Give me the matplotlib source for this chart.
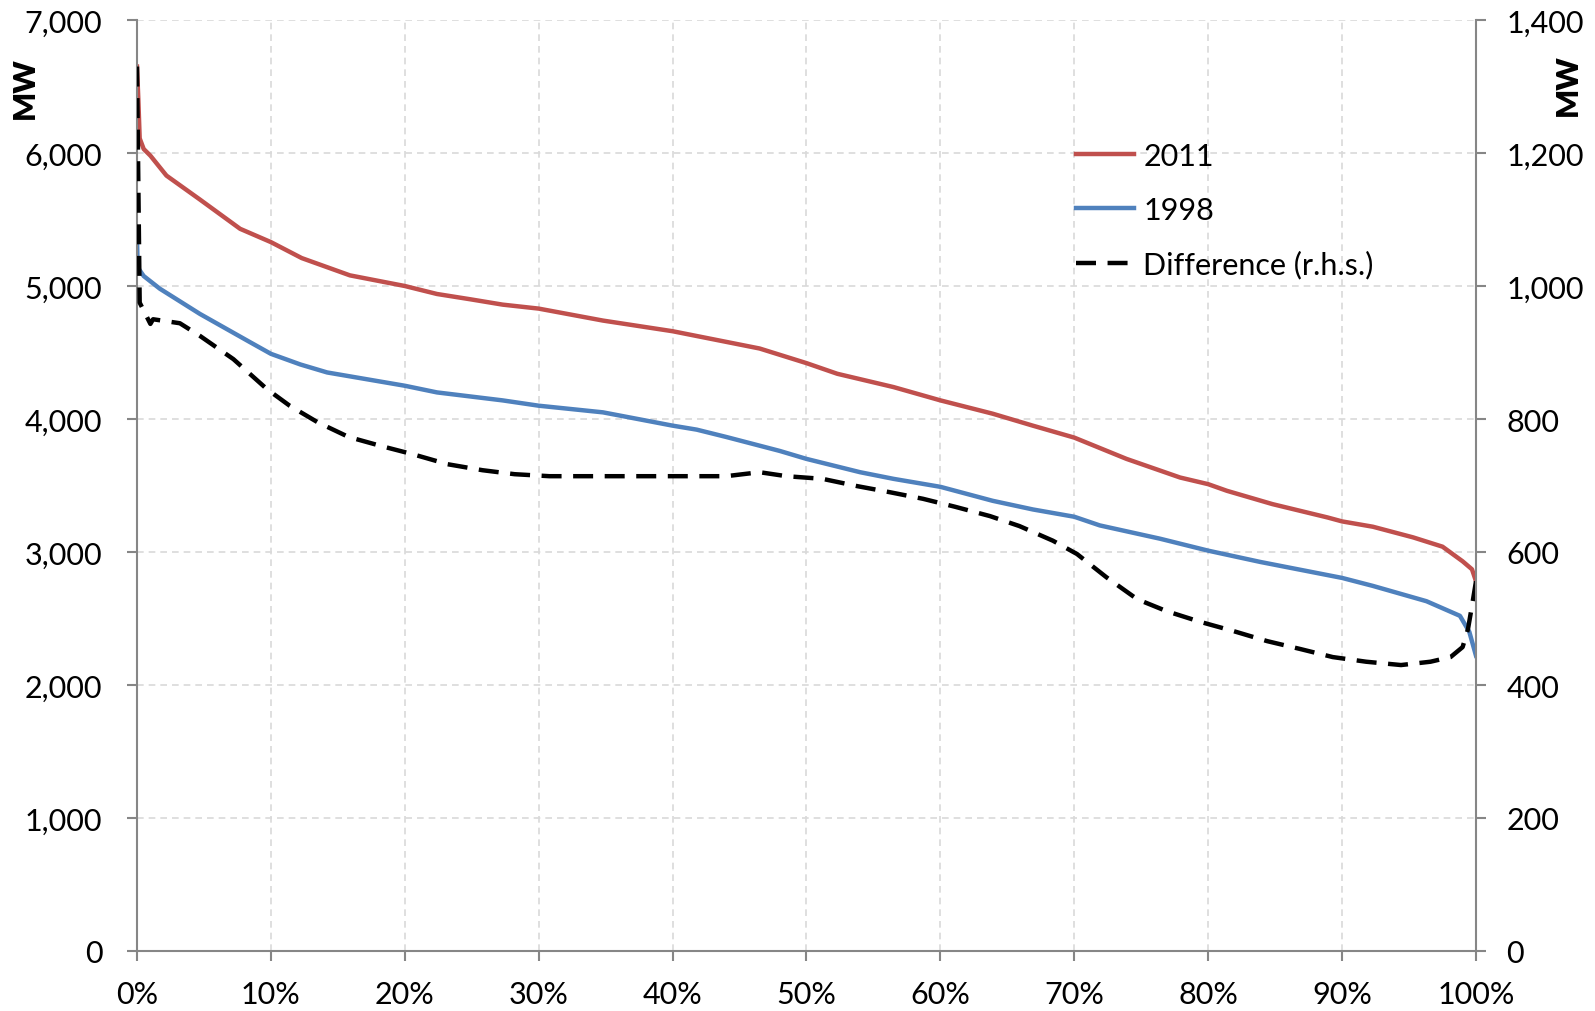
import numpy as np
import matplotlib
matplotlib.use("Agg")
from matplotlib import pyplot as plt
from matplotlib.ticker import FuncFormatter, MultipleLocator

plt.rcParams['font.family'] = ['Lato', 'DejaVu Sans']

# load duration curves, x in % of hours, y in MW
pct_2011 = [0, 0.1, 0.2, 0.5, 1, 2.2, 4.7, 7.7, 10, 12.3, 15.9, 20, 22.4, 24.9, 27.3, 30,
            34.8, 40, 44, 46.5, 50, 52.3, 56.5, 60, 63.9, 66.9, 70, 73.9, 77.9, 80, 81.4,
            84.8, 88.9, 90, 92.3, 95.3, 97.5, 99, 99.7, 100]
mw_2011 = [6650, 6400, 6110, 6030, 5980, 5830, 5650, 5430, 5330, 5210, 5080, 5000, 4940,
           4900, 4860, 4830, 4740, 4660, 4580, 4530, 4420, 4340, 4240, 4140, 4040, 3950,
           3860, 3700, 3560, 3510, 3460, 3360, 3260, 3230, 3190, 3110, 3040, 2930, 2870, 2780]

pct_1998 = [0, 0.05, 0.5, 1.7, 4.7, 8.4, 10, 12.2, 14.2, 20, 22.4, 27.3, 30, 34.8, 40, 41.8,
            44, 48, 50, 54, 56.5, 60, 63.9, 66.9, 70, 71.9, 76.4, 80, 83.9, 90, 92.3, 96.3,
            98.8, 99.5, 100]
mw_1998 = [5350, 5140, 5075, 4980, 4790, 4580, 4490, 4410, 4350, 4250, 4200, 4140, 4100,
           4050, 3950, 3920, 3865, 3760, 3700, 3600, 3550, 3490, 3385, 3320, 3265, 3200,
           3100, 3010, 2925, 2805, 2745, 2630, 2520, 2400, 2220]

# difference, right-hand scale
pct_diff = [0, 0.2, 1, 1.2, 3.2, 4.7, 7.2, 9.7, 11.4, 13.5, 15.8, 18.3, 20.6, 23.2, 25.8,
            28.2, 30.8, 35, 40, 44, 46.5, 48.5, 51.2, 53.8, 56.2, 58.7, 61.1, 63.7, 65.9,
            68.4, 70.2, 72.4, 74.7, 76.9, 79.4, 81.9, 84.4, 86.9, 89.3, 91.8, 94.4, 96.6,
            98.1, 99, 99.4, 99.7, 100]
mw_diff = [1330, 975, 943, 950, 944, 925, 890, 845, 820, 795, 773, 759, 747, 732, 723, 717,
           714, 714, 714, 714, 720, 714, 710, 699, 690, 680, 668, 654, 639, 617, 597, 562,
           529, 511, 495, 481, 466, 454, 442, 435, 430, 435, 442, 457, 484, 519, 556]

x_ticks = [0, 10, 20, 30, 40, 50, 60, 70, 80, 90, 100]

red = '#C0504D'
blue = '#4F81BD'
spine_col = '#868686'
fs = 22

fig = plt.figure(figsize=(15.95, 10.12), dpi=100)
ax = fig.add_axes([137/1595, 1 - 952/1012, (1476-137)/1595, (952-21)/1012])
ax2 = ax.twinx()

l1, = ax.plot(pct_2011, mw_2011, color=red, lw=3.2, label='2011')
l2, = ax.plot(pct_1998, mw_1998, color=blue, lw=3.2, label='1998')
l3, = ax2.plot(pct_diff, mw_diff, color='black', lw=3.2, dashes=(4.5, 2.6),
               label='Difference (r.h.s.)')

ax.set_xlim(0, 100)
ax.set_ylim(0, 7000)
ax2.set_ylim(0, 1400)
ax.set_xticks(x_ticks)
ax.xaxis.set_major_formatter(FuncFormatter(lambda v, p: f'{v:.0f}%'))
ax.yaxis.set_major_locator(MultipleLocator(1000))
ax2.yaxis.set_major_locator(MultipleLocator(200))
comma = FuncFormatter(lambda v, p: f'{v:,.0f}')
ax.yaxis.set_major_formatter(comma)
ax2.yaxis.set_major_formatter(comma)

ax.grid(True, color='#d9d9d9', lw=1.2, ls=(0, (4, 3)))
ax.set_axisbelow(True)

for a in (ax, ax2):
    a.spines['top'].set_visible(False)
    for s in ('left', 'bottom', 'right'):
        a.spines[s].set_color(spine_col)
        a.spines[s].set_linewidth(1.5)
ax.spines['right'].set_visible(False)
ax2.spines['left'].set_visible(False)
ax2.spines['bottom'].set_visible(False)

ax.tick_params(axis='y', length=7, width=1.5, color=spine_col, labelsize=fs, pad=18)
ax.tick_params(axis='x', length=7, width=1.5, color=spine_col, labelsize=fs, pad=14)
ax2.tick_params(axis='y', length=7, width=1.5, color=spine_col, labelsize=fs, pad=15)

fig.text(25/1595, 1 - 88/1012, 'MW', rotation=90, fontsize=fs, fontweight='heavy',
         ha='center', va='center')
fig.text(1568/1595, 1 - 85/1012, 'MW', rotation=90, fontsize=fs, fontweight='heavy',
         ha='center', va='center')

ax.legend(handles=[l1, l2, l3], loc='upper left', bbox_to_anchor=(1076/1595, 1 - 143/1012),
          bbox_transform=fig.transFigure, frameon=False, fontsize=fs, handlelength=1.9,
          handletextpad=0.3, labelspacing=0.85, borderpad=0, borderaxespad=0)

plt.savefig('out.png', dpi=100)
